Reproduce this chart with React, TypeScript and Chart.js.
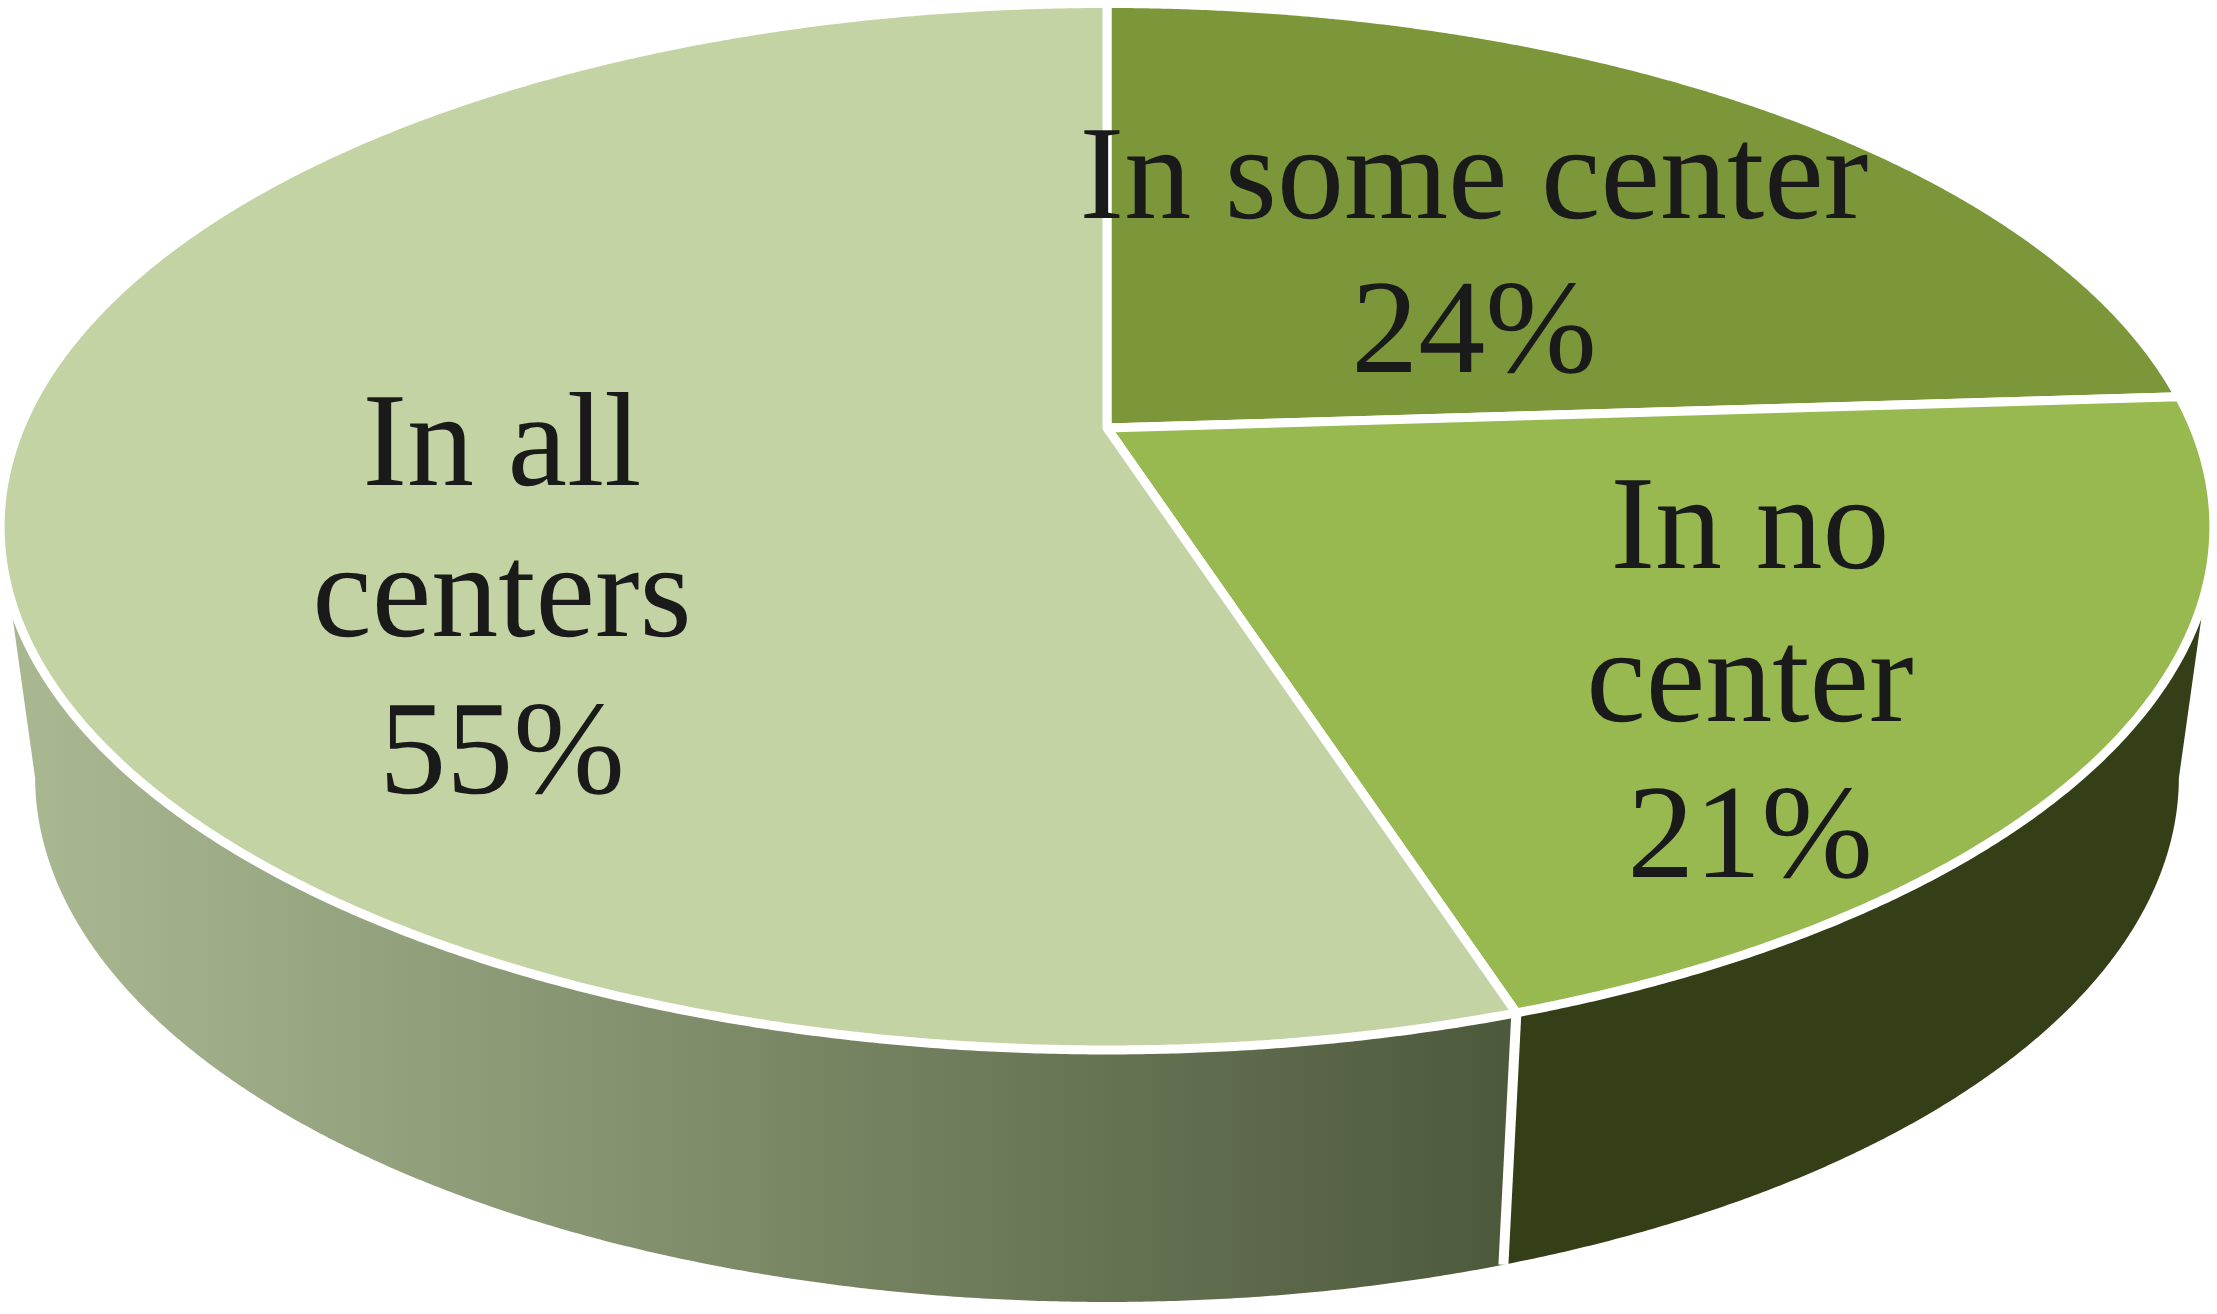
import React, { useEffect, useRef } from "react";
import { Chart, registerables } from "chart.js";

Chart.register(...registerables);

const categories = ["In some center", "In no center", "In all centers"];
const shares = [24, 21, 55];
const labelLines = [["In some center"], ["In no", "center"], ["In all", "centers"]];
const sliceColors = ["#7b9739", "#97b94f", "#c3d3a4"];
const sideColors = [["#4a5a22", "#4a5a22"], ["#343f18", "#343f18"], ["#a9b791", "#4d593b"]];

// top-face projection (circle -> perspective ellipse)
const V = { x: 1107, y: 428 };
const A = 1087;
const B = 504.6;
const W = -0.1887;
const TOP = { cx: 1107, cy: 527, a: 1107, b: 523 };
const BOTTOM = { cx: 1107, cy: 777, a: 1072, b: 525 };
const SIDE_FROM = (108 * Math.PI) / 180;
const SIDE_TO = (252 * Math.PI) / 180;
const BOTTOM_FROM = (101 * Math.PI) / 180;
const BOTTOM_TO = (259 * Math.PI) / 180;
const LABEL_ANCHORS = [
  { x: 1474, baselines: [218, 372] },
  { x: 1750, baselines: [568, 721, 877] },
  { x: 502, baselines: [485, 636, 793] },
];
const FONT_SCALE = 4;
const FONT = '33.5px "Liberation Serif", "Times New Roman", serif';

const topPoint = (t: number) => {
  const u = Math.sin(t);
  const v = -Math.cos(t);
  const d = 1 + W * v;
  return { x: V.x + (A * u) / d, y: V.y + (B * v) / d };
};
const bottomPoint = (t: number) => {
  const p = topPoint(t);
  return {
    x: BOTTOM.cx + ((p.x - TOP.cx) * BOTTOM.a) / TOP.a,
    y: BOTTOM.cy + ((p.y - TOP.cy) * BOTTOM.b) / TOP.b,
  };
};

const perspectivePie = {
  id: "perspectivePie",
  beforeDatasetDraw(chart: any, args: any) {
    const ctx = chart.ctx as CanvasRenderingContext2D;
    const arcs = args.meta.data;
    const step = Math.PI / 720;
    ctx.save();
    ctx.lineJoin = "round";
    // extruded wall
    arcs.forEach((el: any, i: number) => {
      const s = Math.max(el.startAngle + Math.PI / 2, SIDE_FROM);
      const e = Math.min(el.endAngle + Math.PI / 2, SIDE_TO);
      if (e <= s) return;
      const bs = s === SIDE_FROM ? BOTTOM_FROM : s;
      const be = e === SIDE_TO ? BOTTOM_TO : e;
      ctx.beginPath();
      for (let t = s; t < e; t += step) {
        const p = topPoint(t);
        ctx.lineTo(p.x, p.y);
      }
      const pe = topPoint(e);
      ctx.lineTo(pe.x, pe.y);
      for (let t = be; t > bs; t -= step) {
        const p = bottomPoint(t);
        ctx.lineTo(p.x, p.y);
      }
      const ps = bottomPoint(bs);
      ctx.lineTo(ps.x, ps.y);
      ctx.closePath();
      const g = ctx.createLinearGradient(bottomPoint(s).x, 0, bottomPoint(e).x, 0);
      const [c0, c1] = sideColors[i];
      g.addColorStop(0, i === 2 ? c1 : c0);
      g.addColorStop(1, i === 2 ? c0 : c1);
      ctx.fillStyle = g;
      ctx.fill();
    });
    // wall separators
    arcs.forEach((el: any) => {
      const t = el.startAngle + Math.PI / 2;
      if (t < SIDE_FROM || t > SIDE_TO) return;
      const a = topPoint(t);
      const b = bottomPoint(t);
      ctx.beginPath();
      ctx.moveTo(a.x, a.y);
      ctx.lineTo(b.x, b.y);
      ctx.strokeStyle = "#ffffff";
      ctx.lineWidth = 10;
      ctx.stroke();
    });
    // top face
    arcs.forEach((el: any) => {
      const s = el.startAngle + Math.PI / 2;
      const e = el.endAngle + Math.PI / 2;
      ctx.beginPath();
      ctx.moveTo(V.x, V.y);
      for (let t = s; t < e; t += step) {
        const p = topPoint(t);
        ctx.lineTo(p.x, p.y);
      }
      const pe = topPoint(e);
      ctx.lineTo(pe.x, pe.y);
      ctx.closePath();
      ctx.fillStyle = el.options.backgroundColor;
      ctx.fill();
      ctx.strokeStyle = el.options.borderColor;
      ctx.lineWidth = el.options.borderWidth;
      ctx.stroke();
    });
    ctx.restore();
    return false;
  },
  afterDatasetsDraw(chart: any) {
    const ctx = chart.ctx as CanvasRenderingContext2D;
    ctx.save();
    (ctx as any).textRendering = "geometricPrecision";
    ctx.scale(FONT_SCALE, FONT_SCALE);
    ctx.font = FONT;
    ctx.fillStyle = "#1a1a1a";
    ctx.textAlign = "center";
    ctx.textBaseline = "alphabetic";
    labelLines.forEach((lines, i) => {
      const texts = [...lines, `${shares[i]}%`];
      texts.forEach((txt, j) => {
        ctx.fillText(txt, LABEL_ANCHORS[i].x / FONT_SCALE, LABEL_ANCHORS[i].baselines[j] / FONT_SCALE);
      });
    });
    ctx.restore();
  },
};

export default function App() {
  const ref = useRef<HTMLCanvasElement>(null);
  useEffect(() => {
    document.body.style.margin = "0";
    document.body.style.background = "#ffffff";
    const chart = new Chart(ref.current as HTMLCanvasElement, {
      type: "pie",
      data: {
        labels: categories,
        datasets: [
          {
            data: shares,
            backgroundColor: sliceColors,
            borderColor: "#ffffff",
            borderWidth: 9,
          },
        ],
      },
      options: {
        responsive: false,
        animation: false,
        plugins: { legend: { display: false }, tooltip: { enabled: false } },
      },
      plugins: [perspectivePie],
    } as any);
    return () => chart.destroy();
  }, []);
  return <canvas ref={ref} width={2217} height={1314} style={{ display: "block" }} />;
}
